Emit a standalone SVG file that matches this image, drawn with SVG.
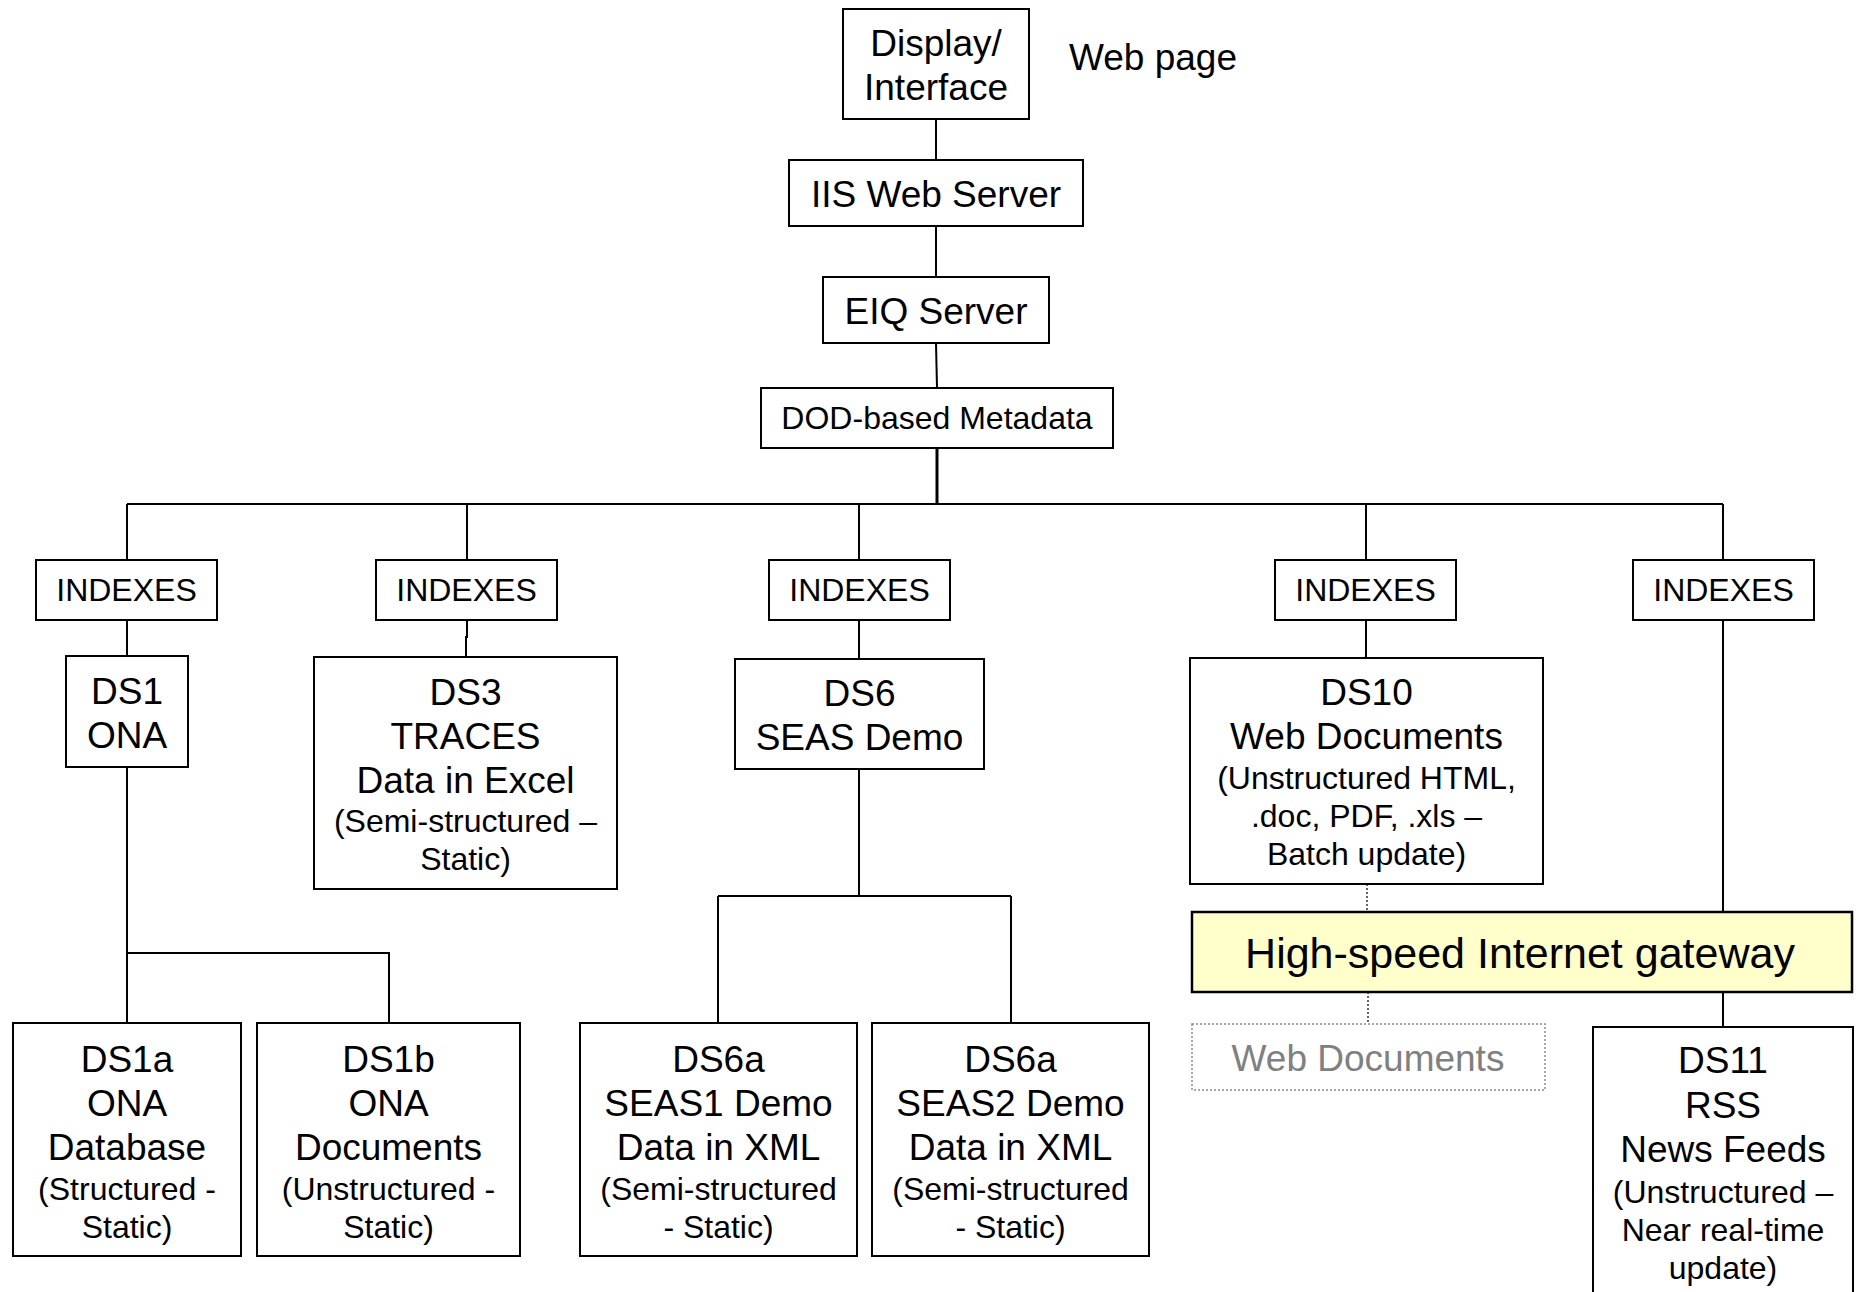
<svg xmlns="http://www.w3.org/2000/svg" width="1861" height="1292" viewBox="0 0 1861 1292">
  <style>
    .box { fill: #ffffff; stroke: #000000; stroke-width: 2; }
    .gw { fill: #ffffcc; stroke: #000000; stroke-width: 2.5; }
    .ghost { fill: #ffffff; stroke: #8c8c8c; stroke-width: 1.5; stroke-dasharray: 2 2; }
    .t { font-family: "Liberation Sans", Arial, sans-serif; fill: #000000; text-anchor: middle; }
    .big { font-size: 37px; }
    .small { font-size: 32px; }
    .huge { font-size: 43px; }
    .grey { fill: #808080; }
    .wire { fill: none; stroke: #000000; stroke-width: 2; }
    .heavy { stroke-width: 3; }
    .dots { fill: none; stroke: #000000; stroke-width: 1.2; stroke-dasharray: 2 2; }
  </style>
  <rect x="0" y="0" width="1861" height="1292" fill="#ffffff"/>

  <!-- connectors -->
  <g id="connectors">
    <path class="wire" d="M936,119 V160"/>
    <path class="wire" d="M936,226 V277"/>
    <path class="wire" d="M936,343 L937,388"/>
    <path class="wire heavy" d="M937,448 V504"/>
    <path class="wire" d="M127,504 H1723"/>
    <path class="wire" d="M127,504 V560 M467,504 V560 M859,504 V560 M1366,504 V560 M1723,504 V560"/>
    <path class="wire" d="M127,620 V656"/>
    <path class="wire" d="M467,620 V637 H466 V657"/>
    <path class="wire" d="M859,620 V659"/>
    <path class="wire" d="M1366,620 V658"/>
    <path class="wire" d="M1723,620 V912 M1723,992 V1027"/>
    <path class="wire" d="M127,767 V1023 M127,953 H389 V1023"/>
    <path class="wire" d="M859,769 V896 M718,896 H1011 M718,896 V1023 M1011,896 V1023"/>
    <path class="dots" d="M1367,884 V912 M1368,992 V1024"/>
  </g>

  <g id="display">
    <rect class="box" x="843" y="9" width="186" height="110"/>
    <text class="t big" x="936" y="56">Display/</text>
    <text class="t big" x="936" y="100">Interface</text>
  </g>
  <g id="web-page-label">
    <text class="t big" x="1069" y="70" style="text-anchor:start">Web page</text>
  </g>
  <g id="iis">
    <rect class="box" x="789" y="160" width="294" height="66"/>
    <text class="t big" x="936" y="207">IIS Web Server</text>
  </g>
  <g id="eiq">
    <rect class="box" x="823" y="277" width="226" height="66"/>
    <text class="t big" x="936" y="324">EIQ Server</text>
  </g>
  <g id="dod">
    <rect class="box" x="761" y="388" width="352" height="60"/>
    <text class="t small" x="937" y="429">DOD-based Metadata</text>
  </g>

  <g id="idx1">
    <rect class="box" x="36" y="560" width="181" height="60"/>
    <text class="t small" x="126.5" y="601">INDEXES</text>
  </g>
  <g id="idx2">
    <rect class="box" x="376" y="560" width="181" height="60"/>
    <text class="t small" x="466.5" y="601">INDEXES</text>
  </g>
  <g id="idx3">
    <rect class="box" x="769" y="560" width="181" height="60"/>
    <text class="t small" x="859.5" y="601">INDEXES</text>
  </g>
  <g id="idx4">
    <rect class="box" x="1275" y="560" width="181" height="60"/>
    <text class="t small" x="1365.5" y="601">INDEXES</text>
  </g>
  <g id="idx5">
    <rect class="box" x="1633" y="560" width="181" height="60"/>
    <text class="t small" x="1723.5" y="601">INDEXES</text>
  </g>

  <g id="ds1">
    <rect class="box" x="66" y="656" width="122" height="111"/>
    <text class="t big" x="127" y="704">DS1</text>
    <text class="t big" x="127" y="748">ONA</text>
  </g>
  <g id="ds3">
    <rect class="box" x="314" y="657" width="303" height="232"/>
    <text class="t big" x="465.5" y="705">DS3</text>
    <text class="t big" x="465.5" y="749">TRACES</text>
    <text class="t big" x="465.5" y="793">Data in Excel</text>
    <text class="t small" x="465.5" y="832">(Semi-structured –</text>
    <text class="t small" x="465.5" y="870">Static)</text>
  </g>
  <g id="ds6">
    <rect class="box" x="735" y="659" width="249" height="110"/>
    <text class="t big" x="859.5" y="706">DS6</text>
    <text class="t big" x="859.5" y="750">SEAS Demo</text>
  </g>
  <g id="ds10">
    <rect class="box" x="1190" y="658" width="353" height="226"/>
    <text class="t big" x="1366.5" y="705">DS10</text>
    <text class="t big" x="1366.5" y="749">Web Documents</text>
    <text class="t small" x="1366.5" y="789">(Unstructured HTML,</text>
    <text class="t small" x="1366.5" y="827">.doc, PDF, .xls –</text>
    <text class="t small" x="1366.5" y="865">Batch update)</text>
  </g>

  <g id="gateway">
    <rect class="gw" x="1192" y="912" width="660" height="80"/>
    <text class="t huge" x="1520" y="968">High-speed Internet gateway</text>
  </g>
  <g id="web-documents">
    <rect class="ghost" x="1192" y="1024" width="353" height="66"/>
    <text class="t big grey" x="1368" y="1071">Web Documents</text>
  </g>
  <g id="ds11">
    <rect class="box" x="1593" y="1027" width="260" height="300"/>
    <text class="t big" x="1723" y="1073">DS11</text>
    <text class="t big" x="1723" y="1118">RSS</text>
    <text class="t big" x="1723" y="1162">News Feeds</text>
    <text class="t small" x="1723" y="1203">(Unstructured –</text>
    <text class="t small" x="1723" y="1241">Near real-time</text>
    <text class="t small" x="1723" y="1279">update)</text>
  </g>

  <g id="ds1a">
    <rect class="box" x="13" y="1023" width="228" height="233"/>
    <text class="t big" x="127" y="1072">DS1a</text>
    <text class="t big" x="127" y="1116">ONA</text>
    <text class="t big" x="127" y="1160">Database</text>
    <text class="t small" x="127" y="1200">(Structured -</text>
    <text class="t small" x="127" y="1238">Static)</text>
  </g>
  <g id="ds1b">
    <rect class="box" x="257" y="1023" width="263" height="233"/>
    <text class="t big" x="388.5" y="1072">DS1b</text>
    <text class="t big" x="388.5" y="1116">ONA</text>
    <text class="t big" x="388.5" y="1160">Documents</text>
    <text class="t small" x="388.5" y="1200">(Unstructured -</text>
    <text class="t small" x="388.5" y="1238">Static)</text>
  </g>
  <g id="ds6a-1">
    <rect class="box" x="580" y="1023" width="277" height="233"/>
    <text class="t big" x="718.5" y="1072">DS6a</text>
    <text class="t big" x="718.5" y="1116">SEAS1 Demo</text>
    <text class="t big" x="718.5" y="1160">Data in XML</text>
    <text class="t small" x="718.5" y="1200">(Semi-structured</text>
    <text class="t small" x="718.5" y="1238">- Static)</text>
  </g>
  <g id="ds6a-2">
    <rect class="box" x="872" y="1023" width="277" height="233"/>
    <text class="t big" x="1010.5" y="1072">DS6a</text>
    <text class="t big" x="1010.5" y="1116">SEAS2 Demo</text>
    <text class="t big" x="1010.5" y="1160">Data in XML</text>
    <text class="t small" x="1010.5" y="1200">(Semi-structured</text>
    <text class="t small" x="1010.5" y="1238">- Static)</text>
  </g>
</svg>
